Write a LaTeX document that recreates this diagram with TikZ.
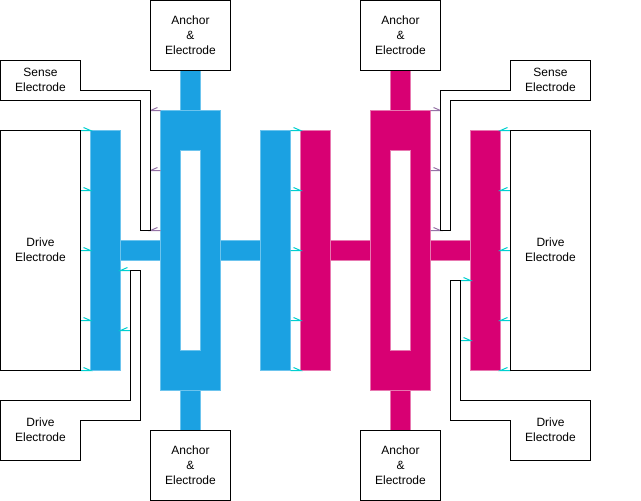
\documentclass[tikz,border=0pt]{standalone}
\usepackage{fontspec}
\setmainfont{Liberation Sans}
\definecolor{bluefill}{HTML}{1BA1E2}
\definecolor{blueedge}{HTML}{6CC4EE}
\definecolor{magfill}{HTML}{D80073}
\definecolor{magedge}{HTML}{E878B0}
\definecolor{drivetick}{HTML}{00D0D0}
\definecolor{sensetick}{HTML}{9673A6}
\tikzset{
  bluepart/.style={fill=bluefill,draw=blueedge,line width=1pt},
  magpart/.style={fill=magfill,draw=magedge,line width=1pt},
  outline/.style={draw=black,fill=white,line width=1pt,line join=miter},
  label/.style={font=\fontsize{12}{15}\selectfont,align=center,inner sep=0pt,yshift=0.7pt},
  cyantick/.style={draw=drivetick,line width=1pt},
  purpletick/.style={draw=sensetick,line width=1pt}
}
\newcommand{\tickR}[4]{\draw[#4] (#1,#3) -- (#2,#3) -- ++(-7,-3);}
\newcommand{\tickL}[4]{\draw[#4] (#1,#3) -- (#2,#3) -- ++(7,-3);}
\begin{document}
\begin{tikzpicture}[x=1pt,y=-1pt]
\useasboundingbox (0,0) rectangle (641,501);
\begin{scope}[shift={(0.5,0.5)}]
% blue structure
\path[bluepart] (180,70) rectangle (200,110);
\path[bluepart] (180,390) rectangle (200,430);
\path[bluepart] (120,240) rectangle (160,260);
\path[bluepart] (220,240) rectangle (260,260);
\path[bluepart] (90,130) rectangle (120,370);
\path[bluepart] (260,130) rectangle (290,370);
\path[bluepart,even odd rule] (160,110) rectangle (220,390) (180,150) rectangle (200,350);
% magenta structure
\path[magpart] (390,70) rectangle (410,110);
\path[magpart] (390,390) rectangle (410,430);
\path[magpart] (330,240) rectangle (370,260);
\path[magpart] (430,240) rectangle (470,260);
\path[magpart] (300,130) rectangle (330,370);
\path[magpart] (470,130) rectangle (500,370);
\path[magpart,even odd rule] (370,110) rectangle (430,390) (390,150) rectangle (410,350);
% ticks
\foreach \y in {130,190,250,320,370}{
  \tickR{80}{90}{\y}{cyantick}
  \tickR{290}{300}{\y}{cyantick}
  \tickL{510}{500}{\y}{cyantick}
}
\foreach \y in {270,330}{\tickL{130}{120}{\y}{cyantick}}
\foreach \y in {280,340}{\tickR{460}{470}{\y}{cyantick}}
\foreach \y in {110,170,230}{
  \tickL{160}{150}{\y}{purpletick}
  \tickR{430}{440}{\y}{purpletick}
}
% anchor boxes
\path[outline] (150,0) rectangle (230,70);
\path[outline] (360,0) rectangle (440,70);
\path[outline] (150,430) rectangle (230,500);
\path[outline] (360,430) rectangle (440,500);
\node[label] (anchorTL) at (190,35) {Anchor\\\&\\Electrode};
\node[label] (anchorTR) at (400,35) {Anchor\\\&\\Electrode};
\node[label] (anchorBL) at (190,465) {Anchor\\\&\\Electrode};
\node[label] (anchorBR) at (400,465) {Anchor\\\&\\Electrode};
% big drive electrodes
\path[outline] (0,130) rectangle (80,370);
\path[outline] (510,130) rectangle (590,370);
\node[label] (driveL) at (40,250) {Drive\\Electrode};
\node[label] (driveR) at (550,250) {Drive\\Electrode};
% sense electrodes
\path[outline] (0,60) -- (80,60) -- (80,90) -- (150,90) -- (150,230) -- (140,230) -- (140,100) -- (0,100) -- cycle;
\path[outline] (590,60) -- (510,60) -- (510,90) -- (440,90) -- (440,230) -- (450,230) -- (450,100) -- (590,100) -- cycle;
\node[label] (senseL) at (40,80) {Sense\\Electrode};
\node[label] (senseR) at (550,80) {Sense\\Electrode};
% lower drive electrodes
\path[outline] (0,400) -- (130,400) -- (130,270) -- (140,270) -- (140,420) -- (80,420) -- (80,460) -- (0,460) -- cycle;
\path[outline] (590,400) -- (460,400) -- (460,280) -- (450,280) -- (450,420) -- (510,420) -- (510,460) -- (590,460) -- cycle;
\node[label] (lowerL) at (40,430) {Drive\\Electrode};
\node[label] (lowerR) at (550,430) {Drive\\Electrode};
\end{scope}
\end{tikzpicture}
\end{document}
